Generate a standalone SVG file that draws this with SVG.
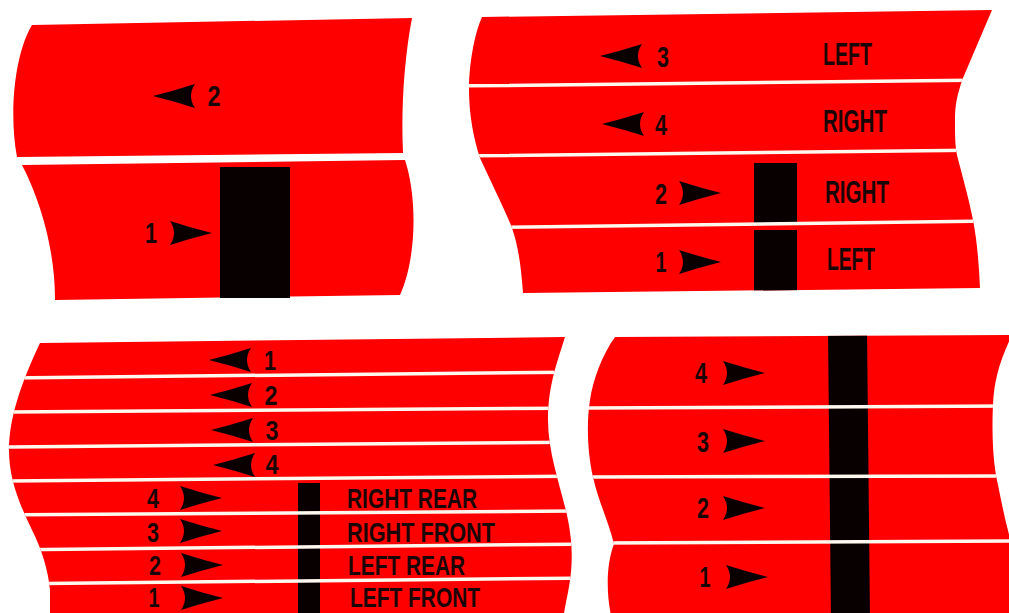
<svg xmlns="http://www.w3.org/2000/svg" xmlns:xlink="http://www.w3.org/1999/xlink" width="1009" height="613" viewBox="0 0 1009 613">
<style>
.red{fill:#fe0000}
.bar{fill:#080000}
.sep{stroke:#fff8ee;stroke-width:3.5;fill:none}
.t{font-family:"Liberation Sans",Arial,sans-serif;font-weight:bold;font-size:31px;fill:#1a0606}
.t3{font-family:"Liberation Sans",Arial,sans-serif;font-weight:bold;font-size:28px;fill:#1a0606}
.d{font-family:"Liberation Sans",Arial,sans-serif;font-weight:bold;font-size:30px;fill:#1a0606;text-anchor:middle}
.d3{font-family:"Liberation Sans",Arial,sans-serif;font-weight:bold;font-size:28px;fill:#1a0606;text-anchor:middle}
.ah{fill:#0a0000}
</style>
<defs>
<path id="al" d="M0,0 Q20,-5 42,-12 Q34,0 42,12 Q20,5 0,0 Z"/>
<path id="ar" d="M0,0 Q-20,-5 -42,-12 Q-34,0 -42,12 Q-20,5 0,0 Z"/>
<path id="s2" d="M482,17 L992,10 L963,78 C957,95 955,105 955,120 C955,135 955,145 957,155 C962,175 968,195 973,220 C977,240 979,265 980,288 L523,293 C521,265 518,245 512,228 C505,210 490,180 480,158 C474,140 469,115 469,90 C469,65 474,35 482,17 Z"/>
<path id="s3" d="M40,343 L565,337 C558,360 548,385 548,420 C548,455 562,490 568,520 C572,540 573,560 570,580 C568,595 565,605 563,620 L50,620 L50,590 C48,570 42,550 32,530 C20,505 9,480 9,450 C9,420 20,385 40,343 Z"/>
<path id="s4" d="M615,337 L1012,335 C1000,360 994,380 993,405 C992,425 992,460 998,485 C1002,505 1006,525 1012,545 L1012,620 L612,620 C606,595 606,565 614,544 C608,520 598,500 593,477 C588,455 586,425 590,400 C593,380 602,355 615,337 Z"/>
<clipPath id="c2"><use xlink:href="#s2" href="#s2"/></clipPath>
<clipPath id="c3"><use xlink:href="#s3" href="#s3"/></clipPath>
<clipPath id="c4"><use xlink:href="#s4" href="#s4"/></clipPath>
</defs>
<rect width="1009" height="613" fill="#ffffff"/>

<g id="panel1">
<path class="red" d="M32,25 L412,18 C404,60 401,110 403,153 L17,157 C9,115 14,55 32,25 Z"/>
<path class="red" d="M22,165 L405,160 C418,200 416,260 400,295 L55,300 C55,240 35,190 22,165 Z"/>
<rect class="bar" x="220" y="167" width="70" height="131"/>
<g id="p1-row2"><use xlink:href="#al" href="#al" class="ah" x="153" y="96"/><text class="d" x="214" y="106" textLength="13" lengthAdjust="spacingAndGlyphs">2</text></g>
<g id="p1-row1"><text class="d" x="151" y="243" textLength="12" lengthAdjust="spacingAndGlyphs">1</text><use xlink:href="#ar" href="#ar" class="ah" x="212" y="233"/></g>
</g>

<g id="panel2">
<use xlink:href="#s2" href="#s2" class="red"/>
<g clip-path="url(#c2)">
<rect class="bar" x="754" y="163" width="43" height="60"/>
<rect class="bar" x="754" y="230" width="43" height="63"/>
<path class="sep" d="M455,86 L1000,80 M455,156 L1000,150 M455,228 L1000,221"/>
</g>
<g id="p2-row3"><use xlink:href="#al" href="#al" class="ah" x="600" y="56"/><text class="d" x="663" y="67" textLength="12" lengthAdjust="spacingAndGlyphs">3</text><text class="t" x="823" y="65" textLength="49" lengthAdjust="spacingAndGlyphs">LEFT</text></g>
<g id="p2-row4"><use xlink:href="#al" href="#al" class="ah" x="602" y="124"/><text class="d" x="661" y="135" textLength="12" lengthAdjust="spacingAndGlyphs">4</text><text class="t" x="823" y="132" textLength="64" lengthAdjust="spacingAndGlyphs">RIGHT</text></g>
<g id="p2-row2"><text class="d" x="661" y="204" textLength="12" lengthAdjust="spacingAndGlyphs">2</text><use xlink:href="#ar" href="#ar" class="ah" x="721" y="193"/><text class="t" x="825" y="203" textLength="64" lengthAdjust="spacingAndGlyphs">RIGHT</text></g>
<g id="p2-row1"><text class="d" x="661" y="272" textLength="11" lengthAdjust="spacingAndGlyphs">1</text><use xlink:href="#ar" href="#ar" class="ah" x="721" y="262"/><text class="t" x="827" y="270" textLength="48" lengthAdjust="spacingAndGlyphs">LEFT</text></g>
</g>

<g id="panel3">
<use xlink:href="#s3" href="#s3" class="red"/>
<g clip-path="url(#c3)">
<rect class="bar" x="298" y="483" width="22" height="137"/>
<path class="sep" d="M0,378 L585,372 M0,412 L585,408 M0,447 L585,442 M0,481 L585,476 M0,515 L585,511 M0,550 L585,544 M0,584 L585,578"/>
</g>
<g id="p3-l1"><use xlink:href="#al" href="#al" class="ah" x="209" y="360"/><text class="d3" x="270" y="370" textLength="12" lengthAdjust="spacingAndGlyphs">1</text></g>
<g id="p3-l2"><use xlink:href="#al" href="#al" class="ah" x="210" y="395"/><text class="d3" x="271" y="405" textLength="13" lengthAdjust="spacingAndGlyphs">2</text></g>
<g id="p3-l3"><use xlink:href="#al" href="#al" class="ah" x="211" y="430"/><text class="d3" x="272" y="440" textLength="13" lengthAdjust="spacingAndGlyphs">3</text></g>
<g id="p3-l4"><use xlink:href="#al" href="#al" class="ah" x="213" y="465"/><text class="d3" x="272" y="474" textLength="13" lengthAdjust="spacingAndGlyphs">4</text></g>
<g id="p3-r4"><text class="d3" x="153" y="508" textLength="12" lengthAdjust="spacingAndGlyphs">4</text><use xlink:href="#ar" href="#ar" class="ah" x="222" y="498"/><text class="t3" x="347" y="508" textLength="130" lengthAdjust="spacingAndGlyphs">RIGHT REAR</text></g>
<g id="p3-r3"><text class="d3" x="153" y="542" textLength="12" lengthAdjust="spacingAndGlyphs">3</text><use xlink:href="#ar" href="#ar" class="ah" x="222" y="531"/><text class="t3" x="347" y="542" textLength="148" lengthAdjust="spacingAndGlyphs">RIGHT FRONT</text></g>
<g id="p3-r2"><text class="d3" x="155" y="575" textLength="12" lengthAdjust="spacingAndGlyphs">2</text><use xlink:href="#ar" href="#ar" class="ah" x="223" y="565"/><text class="t3" x="348" y="575" textLength="117" lengthAdjust="spacingAndGlyphs">LEFT REAR</text></g>
<g id="p3-r1"><text class="d3" x="154" y="607" textLength="11" lengthAdjust="spacingAndGlyphs">1</text><use xlink:href="#ar" href="#ar" class="ah" x="223" y="598"/><text class="t3" x="350" y="607" textLength="130" lengthAdjust="spacingAndGlyphs">LEFT FRONT</text></g>
</g>

<g id="panel4">
<use xlink:href="#s4" href="#s4" class="red"/>
<g clip-path="url(#c4)">
<path class="bar" d="M828,330 L867,330 L870,620 L831,620 Z"/>
<path class="sep" d="M575,408 L1012,406 M575,477 L1012,476 M575,543 L1012,541"/>
</g>
<g id="p4-r4"><text class="d" x="701" y="383" textLength="12" lengthAdjust="spacingAndGlyphs">4</text><use xlink:href="#ar" href="#ar" class="ah" x="765" y="373"/></g>
<g id="p4-r3"><text class="d" x="703" y="452" textLength="12" lengthAdjust="spacingAndGlyphs">3</text><use xlink:href="#ar" href="#ar" class="ah" x="765" y="441"/></g>
<g id="p4-r2"><text class="d" x="703" y="518" textLength="12" lengthAdjust="spacingAndGlyphs">2</text><use xlink:href="#ar" href="#ar" class="ah" x="765" y="508"/></g>
<g id="p4-r1"><text class="d" x="705" y="587" textLength="11" lengthAdjust="spacingAndGlyphs">1</text><use xlink:href="#ar" href="#ar" class="ah" x="768" y="577"/></g>
</g>
</svg>
